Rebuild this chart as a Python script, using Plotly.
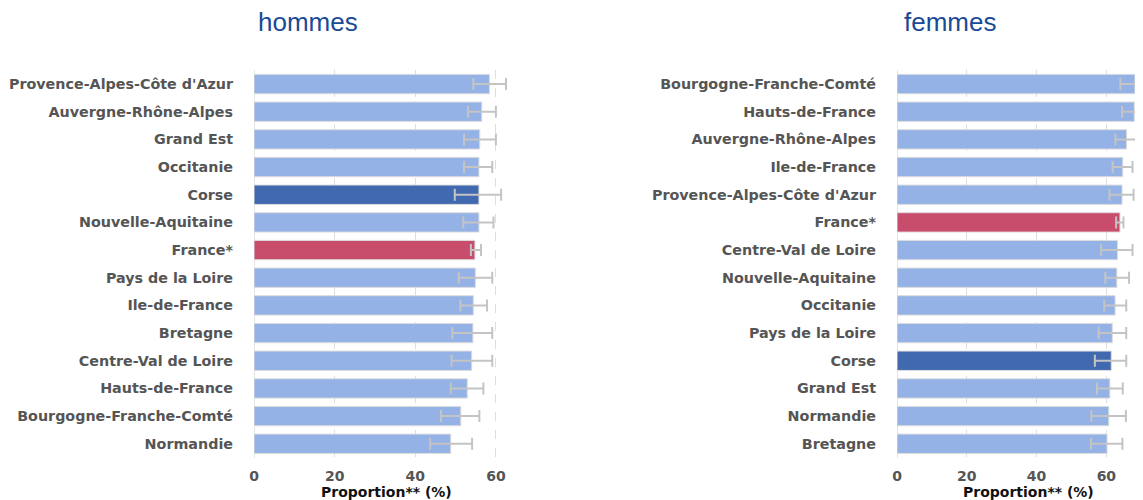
import plotly.graph_objects as go

# ---- data: hommes ----
h_regions = ["Provence-Alpes-Côte d'Azur", "Auvergne-Rhône-Alpes", "Grand Est", "Occitanie",
             "Corse", "Nouvelle-Aquitaine", "France*", "Pays de la Loire", "Ile-de-France",
             "Bretagne", "Centre-Val de Loire", "Hauts-de-France", "Bourgogne-Franche-Comté",
             "Normandie"]
h_values = [58.4, 56.5, 56.0, 55.8, 55.8, 55.8, 54.8, 54.9, 54.4, 54.3, 54.0, 52.9, 51.3, 48.8]
h_low = [54.4, 53.1, 52.1, 52.1, 49.8, 51.9, 53.8, 50.8, 51.2, 49.2, 49.0, 48.8, 46.4, 43.7]
h_high = [62.5, 60.0, 60.0, 59.1, 61.3, 59.4, 56.3, 59.1, 57.8, 59.1, 59.1, 56.9, 55.9, 54.1]

# ---- data: femmes ----
f_regions = ["Bourgogne-Franche-Comté", "Hauts-de-France", "Auvergne-Rhône-Alpes", "Ile-de-France",
             "Provence-Alpes-Côte d'Azur", "France*", "Centre-Val de Loire", "Nouvelle-Aquitaine",
             "Occitanie", "Pays de la Loire", "Corse", "Grand Est", "Normandie", "Bretagne"]
f_values = [68.2, 68.0, 65.8, 64.7, 64.5, 63.9, 63.2, 63.0, 62.5, 61.7, 61.4, 61.0, 60.7, 60.2]
f_low = [64.0, 64.5, 62.6, 61.8, 60.9, 62.8, 58.5, 59.7, 59.4, 57.8, 56.7, 57.3, 55.7, 55.6]
f_high = [72.5, 72.0, 68.9, 67.5, 67.8, 64.9, 67.5, 66.5, 65.7, 65.7, 65.7, 64.7, 65.6, 64.6]

x_ticks = [0, 20, 40, 60]
axis_title = "Proportion** (%)"

C_LIGHT = "#94b2e6"
C_DARK = "#4169b0"
C_FR = "#c84c6c"


def colors(regions):
    out = []
    for r in regions:
        if r == "Corse":
            out.append(C_DARK)
        elif r == "France*":
            out.append(C_FR)
        else:
            out.append(C_LIGHT)
    return out


def bar(regions, vals, low, high, xa, ya):
    return go.Bar(
        y=regions, x=vals, orientation="h", xaxis=xa, yaxis=ya,
        marker=dict(color=colors(regions), line=dict(color="#dcdcdc", width=1)),
        error_x=dict(type="data", symmetric=False,
                     array=[h - v for h, v in zip(high, vals)],
                     arrayminus=[v - l for v, l in zip(vals, low)],
                     color="#c4c4c4", thickness=2, width=6),
        showlegend=False, hoverinfo="x+y",
    )


fig = go.Figure()
fig.add_trace(bar(h_regions, h_values, h_low, h_high, "x", "y"))
fig.add_trace(bar(f_regions, f_values, f_low, f_high, "x2", "y2"))

# page has an 8px body margin; figure is sized/positioned to compensate
OFF = 8
W, H = 1143 - OFF, 500 - OFF


def fx(p):
    return (p - OFF) / W


def fy(p):
    return (H - (p - OFF)) / H


ydom = [fy(457.6), fy(70.2)]

xcommon = dict(
    tickvals=x_ticks, showgrid=True, gridcolor="#dedede", griddash="dash", gridwidth=1,
    zeroline=True, zerolinecolor="#e4e4e4", zerolinewidth=1, showline=False,
    ticks="outside", ticklen=6, tickcolor="rgba(0,0,0,0)",
    tickfont=dict(family="DejaVu Sans", size=14, color="#555555", weight="bold"),
    automargin=False, fixedrange=True,
)
ycommon = dict(
    autorange="reversed", showgrid=False, zeroline=False, showline=False,
    tickfont=dict(family="DejaVu Sans", size=14.3, color="#555555", weight="bold"),
    ticklabelstandoff=20, domain=ydom, automargin=False,
)

title_font = dict(family="Liberation Sans", size=26, color="#1a4a96")
axis_font = dict(family="DejaVu Sans", size=14, color="#111111", weight="bold")

fig.update_layout(
    width=W, height=H,
    margin=dict(l=0, r=0, t=0, b=0, autoexpand=False),
    paper_bgcolor="white", plot_bgcolor="white",
    bargap=0.3,
    xaxis=dict(domain=[fx(254), fx(510)], range=[0, 63.5], anchor="y", **xcommon),
    yaxis=dict(anchor="x", **ycommon),
    xaxis2=dict(domain=[fx(897), 1.0], range=[0, 70.5], anchor="y2", **xcommon),
    yaxis2=dict(anchor="x2", **ycommon),
    annotations=[
        dict(text="hommes", x=fx(308), y=fy(22), xref="paper", yref="paper",
             xanchor="center", yanchor="middle", showarrow=False, font=title_font),
        dict(text="femmes", x=fx(950), y=fy(22), xref="paper", yref="paper",
             xanchor="center", yanchor="middle", showarrow=False, font=title_font),
        dict(text=axis_title, x=fx(386), y=fy(492), xref="paper", yref="paper",
             xanchor="center", yanchor="middle", showarrow=False, font=axis_font),
        dict(text=axis_title, x=fx(1028), y=fy(492), xref="paper", yref="paper",
             xanchor="center", yanchor="middle", showarrow=False, font=axis_font),
    ],
)

fig.write_html("out.html")
